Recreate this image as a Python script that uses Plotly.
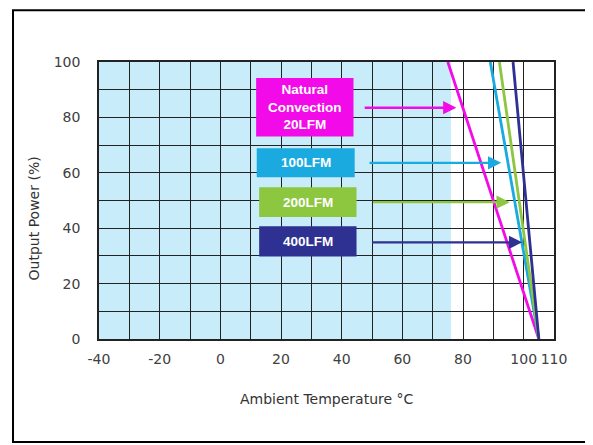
import plotly.graph_objects as go

# ---- data ----
series_names = ["Natural<br>Convection<br>20LFM", "100LFM", "200LFM", "400LFM"]
series_colors = ["#F20BE8", "#1AAAE0", "#8DC63F", "#2E3192"]
temp_full_power = [75, 89, 92, 96.5]     # °C at 100 % output
temp_zero_power = [105, 105, 105, 105]   # °C at 0 % output
power_levels = [100, 0]
arrow_power = [83.5, 63.6, 49.4, 34.9]   # % level at which each label arrow points

x_tick_vals = [-40, -30, -20, -10, 0, 10, 20, 30, 40, 50, 60, 70, 80, 90, 100, 110]
x_tick_text = ["-40", "", "-20", "", "0", "", "20", "", "40", "", "60", "", "80", "", "100", "110"]
y_tick_vals = [0, 10, 20, 30, 40, 50, 60, 70, 80, 90, 100]
y_tick_text = ["0", "", "20", "", "40", "", "60", "", "80", "", "100"]
safe_zone = [-40, 76]  # shaded region

fig = go.Figure()

for name, col, t_hi, t_lo in zip(series_names, series_colors, temp_full_power, temp_zero_power):
    fig.add_trace(go.Scatter(x=[t_hi, t_lo], y=power_levels, mode="lines",
                             line=dict(color=col, width=2.8), name=name.replace("<br>", " "),
                             showlegend=False, hoverinfo="skip"))

shapes = []
# shaded region
shapes.append(dict(type="rect", xref="x", yref="y", x0=safe_zone[0], x1=safe_zone[1], y0=0, y1=100,
                   fillcolor="#C8ECFA", line=dict(width=0), layer="below"))
# outer frame
shapes.append(dict(type="rect", xref="paper", yref="paper", x0=-0.189, x1=1.071, y0=-0.372, y1=1.187,
                   line=dict(color="black", width=2), fillcolor="rgba(0,0,0,0)", layer="above"))

# label boxes (positions)
box_x = [(11.8, 43.9), (12.0, 44.3), (12.8, 44.9), (12.8, 44.9)]
box_y = [(73.1, 94.2), (58.4, 68.9), (44.0, 54.8), (29.8, 40.7)]
arrow_x = [(47.1, 77.8), (48.7, 92.6), (49.8, 95.4), (49.5, 99.5)]

annotations = []
for i, (name, col) in enumerate(zip(series_names, series_colors)):
    (bx0, bx1), (by0, by1) = box_x[i], box_y[i]
    shapes.append(dict(type="rect", xref="x", yref="y", x0=bx0, x1=bx1, y0=by0, y1=by1,
                       fillcolor=col, line=dict(width=0), layer="above"))
    annotations.append(dict(x=(bx0 + bx1) / 2, y=(by0 + by1) / 2, xref="x", yref="y",
                            text=name, showarrow=False,
                            font=dict(family="Liberation Sans", size=13.5, color="white", weight="bold")))
    ax0, ax1 = arrow_x[i]
    annotations.append(dict(x=ax1, y=arrow_power[i], ax=ax0, ay=arrow_power[i],
                            xref="x", yref="y", axref="x", ayref="y", text="",
                            showarrow=True, arrowhead=2, arrowsize=1.1, arrowwidth=2.4,
                            arrowcolor=col))

# axis titles
annotations.append(dict(x=0.5006, y=-0.216, xref="paper", yref="paper", text="Ambient Temperature °C",
                        xanchor="center", yanchor="middle",
                        showarrow=False, font=dict(family="DejaVu Sans", size=14, color="#333333")))
annotations.append(dict(x=-0.143, y=0.435, xref="paper", yref="paper", text="Output Power (%)",
                        xanchor="center", yanchor="middle",
                        textangle=-90, showarrow=False,
                        font=dict(family="DejaVu Sans", size=14, color="#333333")))

# page body has an 8px margin, so the figure is sized/shifted to compensate
fig.update_layout(
    width=585, height=437,
    margin=dict(l=91, r=38.5, t=54, b=106.4),
    paper_bgcolor="white", plot_bgcolor="white",
    shapes=shapes, annotations=annotations,
    showlegend=False,
)
fig.update_xaxes(range=[-40, 110], tickvals=x_tick_vals, ticktext=x_tick_text,
                 showgrid=True, gridcolor="#222222", gridwidth=1.2, zeroline=False,
                 showline=True, linecolor="#222222", linewidth=1.5, mirror=True,
                 ticks="", ticklabelstandoff=6,
                 tickfont=dict(family="DejaVu Sans", size=14, color="#404040"))
fig.update_yaxes(range=[0, 100], tickvals=y_tick_vals, ticktext=y_tick_text,
                 showgrid=True, gridcolor="#222222", gridwidth=1.2, zeroline=False,
                 showline=True, linecolor="#222222", linewidth=1.5, mirror=True,
                 ticks="", ticklabelstandoff=14,
                 tickfont=dict(family="DejaVu Sans", size=14, color="#404040"))

fig.write_html("out.html")
